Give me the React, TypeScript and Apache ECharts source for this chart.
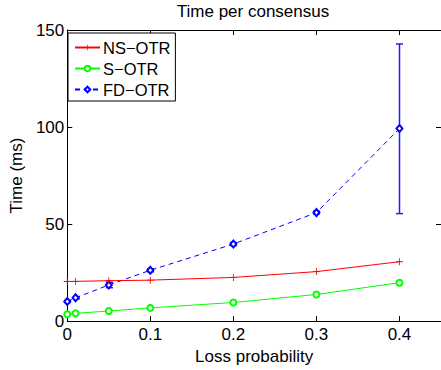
import React, { useEffect, useRef } from "react";
import * as echarts from "echarts";

const xs = [0, 0.01, 0.05, 0.1, 0.2, 0.3, 0.4];
const nsOtr = [20.4, 20.5, 20.8, 21.1, 22.5, 25.5, 30.6];
const sOtr = [3.5, 4.0, 5.2, 6.8, 9.6, 13.7, 19.8];
const fdOtr = [10.1, 12.0, 18.6, 26.2, 39.7, 55.9, 99.2];
const fdLow = [9.6, 11.4, 17.2, 25.4, 38.9, 55.2, 55.4];
const fdHigh = [10.6, 12.6, 20.0, 27.0, 40.5, 56.6, 142.8];
const seriesNames = ["NS\u2212OTR", "S\u2212OTR", "FD\u2212OTR"];
const titleText = "Time per consensus";
const xName = "Loss probability";
const yName = "Time (ms)";

const FONT = "'Liberation Sans', Arial, Helvetica, sans-serif";
const PLUS = "path://M4.4,0 H5.6 V4.4 H10 V5.6 H5.6 V10 H4.4 V5.6 H0 V4.4 H4.4 Z";

export default function App() {
  const ref = useRef<HTMLDivElement>(null);
  useEffect(() => {
    if (!ref.current) return;
    const chart = echarts.init(ref.current, null, { renderer: "svg" });
    const pairs = (ys: number[]) => xs.map((x, i) => [x, ys[i]]);
    const axisCommon = {
      axisLine: { show: true, onZero: false, lineStyle: { color: "#000", width: 1 } },
      axisTick: { show: true, inside: true, length: 5, lineStyle: { color: "#000" } },
      splitLine: { show: false },
    };
    chart.setOption({
      animation: false,
      backgroundColor: "#fff",
      textStyle: { fontFamily: FONT },
      title: {
        text: titleText,
        left: 253,
        textAlign: "center",
        top: 3,
        padding: 0,
        textStyle: { fontFamily: FONT, fontSize: 17, fontWeight: "normal", color: "#000" },
      },
      legend: {
        data: seriesNames,
        orient: "vertical",
        left: 68,
        top: 33,
        padding: [6, 5, 3, 6],
        itemGap: 4,
        itemWidth: 25,
        itemHeight: 7,
        backgroundColor: "#fff",
        borderColor: "#000",
        borderWidth: 1,
        borderRadius: 0,
        textStyle: { fontFamily: FONT, fontSize: 16.5, color: "#000", padding: [0, 0, 0, -2] },
      },
      grid: { left: 64, top: 30, width: 378, height: 296, containLabel: false },
      xAxis: [
        {
          type: "value",
          min: 0,
          max: 0.45,
          interval: 0.1,
          position: "bottom",
          name: xName,
          nameLocation: "middle",
          nameGap: 26,
          nameTextStyle: { fontFamily: FONT, fontSize: 17, color: "#000" },
          axisLabel: { fontFamily: FONT, fontSize: 17, color: "#000", margin: 5, showMaxLabel: false },
          ...axisCommon,
        },
        {
          type: "value",
          min: 0,
          max: 0.45,
          interval: 0.1,
          position: "top",
          axisLabel: { show: false },
          ...axisCommon,
        },
      ],
      yAxis: [
        {
          type: "value",
          min: 0,
          max: 150,
          interval: 50,
          position: "left",
          name: yName,
          nameLocation: "middle",
          nameGap: 41,
          nameTextStyle: { fontFamily: FONT, fontSize: 17, color: "#000" },
          axisLabel: { fontFamily: FONT, fontSize: 17, color: "#000", margin: 3 },
          ...axisCommon,
        },
        {
          type: "value",
          min: 0,
          max: 150,
          interval: 50,
          position: "right",
          axisLabel: { show: false },
          ...axisCommon,
        },
      ],
      series: [
        {
          name: seriesNames[0],
          type: "line",
          data: pairs(nsOtr),
          symbol: PLUS,
          symbolSize: 7,
          lineStyle: { color: "#ff0000", width: 1 },
          itemStyle: { color: "#ff0000" },
        },
        {
          name: seriesNames[1],
          type: "line",
          data: pairs(sOtr),
          symbol: "emptyCircle",
          symbolSize: 6,
          lineStyle: { color: "#00ff00", width: 1 },
          itemStyle: { color: "#00ff00", borderWidth: 1 },
        },
        {
          name: "fd-err",
          type: "custom",
          data: xs.map((x, i) => [x, fdLow[i], fdHigh[i]]),
          itemStyle: { color: "#0000ff" },
          renderItem: (params: any, api: any) => {
            const lo = api.coord([api.value(0), api.value(1)]);
            const hi = api.coord([api.value(0), api.value(2)]);
            const w = 3.5;
            const cx = Math.round(lo[0]) + 0.5;
            const style = { stroke: "#1f1fff", lineWidth: 1.5, fill: null };
            return {
              type: "group",
              children: [
                { type: "line", shape: { x1: cx, y1: lo[1], x2: cx, y2: hi[1] }, style },
                { type: "line", shape: { x1: cx - w, y1: lo[1], x2: cx + w, y2: lo[1] }, style },
                { type: "line", shape: { x1: cx - w, y1: hi[1], x2: cx + w, y2: hi[1] }, style },
              ],
            };
          },
          z: 1,
        },
        {
          name: seriesNames[2],
          type: "line",
          data: pairs(fdOtr),
          symbol: "emptyDiamond",
          symbolSize: [6, 7],
          lineStyle: { color: "#0000ff", width: 1, type: [5, 4] },
          itemStyle: { color: "#0000ff", borderWidth: 1 },
          z: 2,
        },
      ],
    });
    return () => chart.dispose();
  }, []);
  return (
    <div
      ref={ref}
      style={{ position: "fixed", left: 0, top: 0, width: 441, height: 370, background: "#fff" }}
    />
  );
}
